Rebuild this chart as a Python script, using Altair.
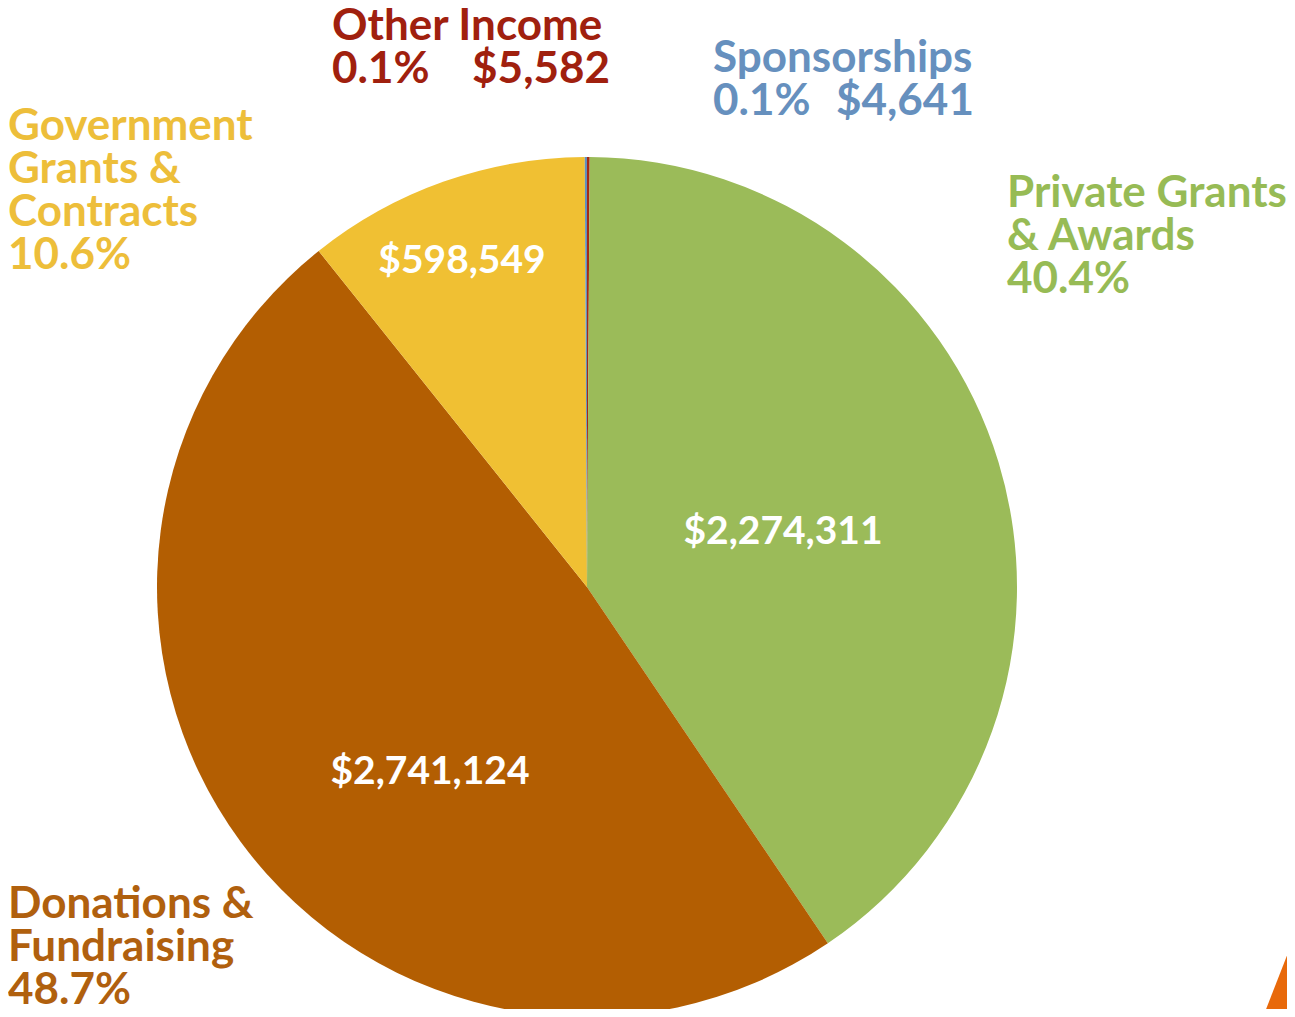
import altair as alt
import pandas as pd

# ---- data ----
categories = ["Other Income", "Private Grants & Awards", "Donations & Fundraising",
              "Government Grants & Contracts", "Sponsorships"]
amounts = [5582, 2274311, 2741124, 598549, 4641]
percents = ["0.1%", "40.4%", "48.7%", "10.6%", "0.1%"]
slice_colors = ["#A52A14", "#9BBB59", "#B35E02", "#F0C033", "#5F8FC0"]

# ---- layout (pixels, plot coordinates) ----
CX, CY, R = 579, 579, 430
FONT = "Lato"
FS_OUT = 44
FS_IN = 39
LH = 43

pie_df = pd.DataFrame({"category": categories, "amount": amounts,
                       "order": list(range(len(categories)))})

pie = alt.Chart(pie_df).mark_arc(outerRadius=R, x=CX, y=CY).encode(
    theta=alt.Theta("amount:Q", stack=True),
    order=alt.Order("order:Q"),
    color=alt.Color("category:N", scale=alt.Scale(domain=categories, range=slice_colors),
                    legend=None),
)

fmt = lambda v: f"${v:,}"

# in-slice value labels
inner_df = pd.DataFrame({
    "text": [fmt(amounts[1]), fmt(amounts[2]), fmt(amounts[3])],
    "px": [775, 422, 454],
    "py": [536, 776, 265],
})
inner = alt.Chart(inner_df).mark_text(font=FONT, fontSize=FS_IN, fontWeight="bold",
                                      color="white", align="center",
                                      baseline="alphabetic").encode(
    x=alt.X("px:Q", scale=None), y=alt.Y("py:Q", scale=None), text="text:N")

# outer labels
outer_rows = [
    # text, color, x, y, align
    ("Other Income", "#A0200E", 324, 32, "left"),
    (percents[0], "#A0200E", 324, 75, "left"),
    (fmt(amounts[0]), "#A0200E", 602, 75, "right"),
    ("Sponsorships\n" + percents[4], "#6690BE", 705, 64, "left"),
    (fmt(amounts[4]), "#6690BE", 828, 107, "left"),
    ("Private Grants\n& Awards\n" + percents[1], "#97BB55", 999, 199, "left"),
    ("Government\nGrants &\nContracts\n" + percents[3], "#EDBE3A", 0, 132, "left"),
    ("Donations &\nFundraising\n" + percents[2], "#B0600E", 0, 910, "left"),
]
outer_df = pd.DataFrame(outer_rows, columns=["text", "color", "px", "py", "align"])

outer_layers = []
for al in ["left", "right"]:
    sub = outer_df[outer_df["align"] == al]
    outer_layers.append(
        alt.Chart(sub).mark_text(font=FONT, fontSize=FS_OUT, fontWeight="bold",
                                 align=al, baseline="alphabetic", lineBreak="\n",
                                 lineHeight=LH).encode(
            x=alt.X("px:Q", scale=None), y=alt.Y("py:Q", scale=None),
            text="text:N", color=alt.Color("color:N", scale=None))
    )

# decorative corner triangle
tri_df = pd.DataFrame({"px": [1271], "py": [968]})
tri = alt.Chart(tri_df).mark_point(
    shape="M0.39,-1 L0.39,1 L-0.39,1 Z", size=6724, filled=True, color="#E8690A",
    opacity=1, strokeWidth=0).encode(x=alt.X("px:Q", scale=None),
                                     y=alt.Y("py:Q", scale=None))

chart = alt.layer(pie, inner, *outer_layers, tri).properties(
    width=1279, height=1001, padding=0, background="white",
    autosize=alt.AutoSizeParams(type="none"),
).configure_view(stroke=None)

chart.save("out.html", embed_options={"renderer": "svg", "actions": False})
